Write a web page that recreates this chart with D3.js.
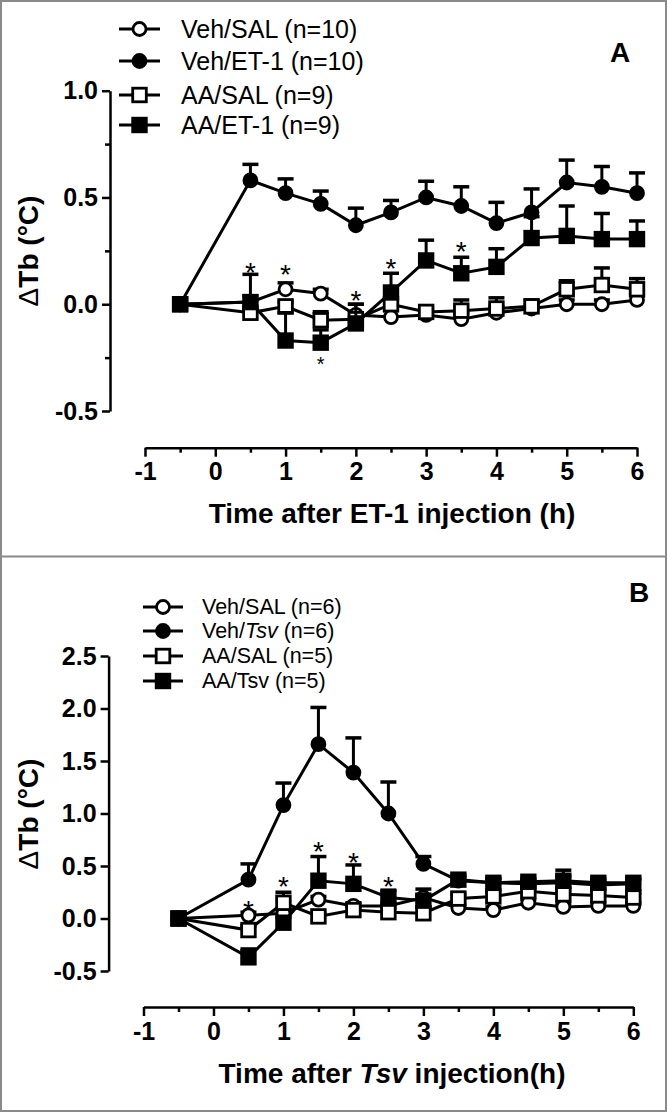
<!DOCTYPE html>
<html>
<head>
<meta charset="utf-8">
<script src="https://cdn.jsdelivr.net/npm/d3@7"></script>
<style>
  body { margin: 0; background: #fff; }
  svg { display: block; }
  .axis path, .axis line { stroke: #000; stroke-width: 2.5; }
  .axis text { font-family: "Liberation Sans", Arial, sans-serif; font-weight: bold; font-size: 25px; fill: #000; }
</style>
</head>
<body>
<div id="chart"></div>
<script>
// time points (h)
var times = [-0.5, 0.5, 1, 1.5, 2, 2.5, 3, 3.5, 4, 4.5, 5, 5.5, 6];
var xTicks = [-1, 0, 1, 2, 3, 4, 5, 6];
var xMinor = [-0.5, 0.5, 1.5, 2.5, 3.5, 4.5, 5.5];

// panel A - ET-1
var aVehSal     = [0, 0.01, 0.07, 0.05, -0.05, -0.06, -0.05, -0.07, -0.04, -0.02, 0.0, 0.0, 0.02];
var aVehSalErr  = [0, 0.03, 0.03, 0.02, 0.05, 0.03, 0.02, 0.03, 0.03, 0.02, 0.02, 0.02, 0.02];
var aVehEt      = [0, 0.58, 0.52, 0.47, 0.37, 0.43, 0.50, 0.46, 0.38, 0.43, 0.57, 0.55, 0.52];
var aVehEtErr   = [0, 0.075, 0.067, 0.06, 0.08, 0.056, 0.076, 0.09, 0.097, 0.11, 0.105, 0.095, 0.095];
var aAaSal      = [0, -0.04, -0.01, -0.075, -0.07, 0.0, -0.036, -0.03, -0.02, -0.01, 0.07, 0.09, 0.07];
var aAaSalErr   = [0, 0.02, 0.02, 0.04, 0.03, 0.03, 0.02, 0.05, 0.05, 0.03, 0.04, 0.08, 0.05];
var aAaEt       = [0, 0.01, -0.17, -0.18, -0.09, 0.055, 0.205, 0.145, 0.175, 0.31, 0.32, 0.305, 0.305];
var aAaEtErr    = [0, 0.13, 0.13, 0.06, 0.09, 0.09, 0.095, 0.075, 0.085, 0.1, 0.14, 0.12, 0.085];
var aStarT      = [0.5, 1, 2, 2.5, 3.5, 1.5];
var aStarV      = [0.18, 0.17, 0.05, 0.2, 0.28, -0.26];
var aYTicks     = [1.0, 0.5, 0.0, -0.5];
var aYMinor     = [0.75, 0.25, -0.25];
var aLegend     = ["Veh/SAL (n=10)", "Veh/ET-1 (n=10)", "AA/SAL (n=9)", "AA/ET-1 (n=9)"];

// panel B - Tsv
var bVehSal     = [0, 0.03, 0.05, 0.18, 0.12, 0.12, 0.2, 0.1, 0.08, 0.15, 0.11, 0.12, 0.12];
var bVehSalErr  = [0, 0.03, 0.03, 0.03, 0.03, 0.03, 0.08, 0.03, 0.03, 0.03, 0.03, 0.03, 0.03];
var bVehTsv     = [0, 0.37, 1.08, 1.66, 1.39, 1.0, 0.52, 0.36, 0.34, 0.33, 0.34, 0.32, 0.33];
var bVehTsvErr  = [0, 0.15, 0.21, 0.35, 0.33, 0.3, 0.07, 0.04, 0.04, 0.04, 0.06, 0.04, 0.04];
var bAaSal      = [0, -0.11, 0.15, 0.02, 0.08, 0.06, 0.05, 0.19, 0.21, 0.26, 0.23, 0.22, 0.2];
var bAaSalErr   = [0, 0.04, 0.1, 0.03, 0.03, 0.04, 0.06, 0.04, 0.04, 0.04, 0.04, 0.04, 0.04];
var bAaTsv      = [0, -0.37, -0.04, 0.36, 0.33, 0.2, 0.17, 0.37, 0.34, 0.35, 0.36, 0.34, 0.34];
var bAaTsvErr   = [0, 0.08, 0.05, 0.23, 0.18, 0.07, 0.05, 0.04, 0.04, 0.03, 0.1, 0.04, 0.04];
var bStarT      = [0.5, 1, 1.5, 2, 2.5];
var bStarV      = [0.145, 0.37, 0.70, 0.60, 0.37];
var bYTicks     = [2.5, 2.0, 1.5, 1.0, 0.5, 0.0, -0.5];
var bLegend     = [["Veh/SAL (n=6)"], ["Veh/", "Tsv", " (n=6)"], ["AA/SAL (n=5)"], ["AA/Tsv (n=5)"]];

var W = 667, H = 1113;
var FONT = "'Liberation Sans', Arial, sans-serif";

var svg = d3.select("#chart").append("svg")
    .attr("width", W)
    .attr("height", H);

// frame and separator
svg.append("rect")
    .attr("x", 1).attr("y", 1)
    .attr("width", W - 2).attr("height", H - 3)
    .attr("fill", "none").attr("stroke", "#8a8a8a").attr("stroke-width", 2);
svg.append("line")
    .attr("x1", 0).attr("x2", W)
    .attr("y1", 556.5).attr("y2", 556.5)
    .attr("stroke", "#8a8a8a").attr("stroke-width", 2);

var symbols = ["circleOpen", "circleFill", "squareOpen", "squareFill"];

function marker(g, kind, cx, cy) {
    var fill = (kind == "circleFill" || kind == "squareFill") ? "#000" : "#fff";
    if (kind.indexOf("circle") == 0) {
        g.append("circle")
            .attr("cx", cx).attr("cy", cy).attr("r", 6.5)
            .attr("fill", fill).attr("stroke", "#000").attr("stroke-width", 2.8);
    } else {
        g.append("rect")
            .attr("x", cx - 6.8).attr("y", cy - 6.8)
            .attr("width", 13.6).attr("height", 13.6)
            .attr("fill", fill).attr("stroke", "#000").attr("stroke-width", 2.8);
    }
}

function drawPanel(p) {
    var g = svg.append("g");
    var x = d3.scaleLinear().domain([-1, 6]).range(p.xRange);
    var y = d3.scaleLinear().domain(p.yDomain).range(p.yRange);

    // y axis
    g.append("g").attr("class", "axis")
        .attr("transform", "translate(" + p.yAxisX + ",0)")
        .call(d3.axisLeft(y).tickValues(p.yTicks).tickSize(8).tickSizeOuter(0)
            .tickPadding(4).tickFormat(function(d) { return d.toFixed(1); }));
    if (p.yMinor) {
        g.append("g").attr("class", "axis")
            .attr("transform", "translate(" + p.yAxisX + ",0)")
            .call(d3.axisLeft(y).tickValues(p.yMinor).tickSize(5).tickFormat(""))
            .select(".domain").remove();
    }

    // x axis
    g.append("g").attr("class", "axis")
        .attr("transform", "translate(0," + p.xAxisY + ")")
        .call(d3.axisBottom(x).tickValues(xTicks).tickSize(9).tickSizeOuter(0)
            .tickPadding(6).tickFormat(function(d) { return String(d); }));
    g.append("g").attr("class", "axis")
        .attr("transform", "translate(0," + p.xAxisY + ")")
        .call(d3.axisBottom(x).tickValues(xMinor).tickSize(5).tickFormat(""))
        .select(".domain").remove();

    // axis titles
    var xt = g.append("text")
        .attr("x", p.xTitleX).attr("y", p.xTitleY)
        .attr("text-anchor", "middle")
        .style("font-family", FONT).style("font-weight", "bold").style("font-size", "28px");
    p.xTitle.forEach(function(s, i) {
        xt.append("tspan").text(s).style("font-style", (i == 1 && p.xTitle.length > 1) ? "italic" : "normal");
    });

    var yt = g.append("text")
        .attr("transform", "translate(28," + p.yTitleY + ") rotate(-90)")
        .attr("text-anchor", "middle")
        .attr("dominant-baseline", "central")
        .style("font-family", FONT).style("font-size", "28px");
    yt.append("tspan").text("\u0394");
    yt.append("tspan").style("font-weight", "bold").text("Tb (\u00b0C)");

    // series
    p.series.forEach(function(s, k) {
        var pts = times.map(function(t, i) { return {t: t, v: s.vals[i], e: s.err[i]}; });
        var sg = g.append("g");
        sg.append("path")
            .datum(pts)
            .attr("fill", "none").attr("stroke", "#000").attr("stroke-width", 3)
            .attr("d", d3.line().x(function(d) { return x(d.t); }).y(function(d) { return y(d.v); }));
        pts.forEach(function(d) {
            if (d.e > 0) {
                sg.append("line")
                    .attr("x1", x(d.t)).attr("x2", x(d.t))
                    .attr("y1", y(d.v)).attr("y2", y(d.v + d.e))
                    .attr("stroke", "#000").attr("stroke-width", 3);
                sg.append("line")
                    .attr("x1", x(d.t) - 8).attr("x2", x(d.t) + 8)
                    .attr("y1", y(d.v + d.e)).attr("y2", y(d.v + d.e))
                    .attr("stroke", "#000").attr("stroke-width", 3.5);
            }
        });
        pts.forEach(function(d) { marker(sg, symbols[k], x(d.t), y(d.v)); });
    });

    // significance stars
    p.starT.forEach(function(t, i) {
        var small = p.starV[i] < 0;
        var fs = small ? 20 : 28;
        g.append("text")
            .attr("x", x(t)).attr("y", y(p.starV[i]) + fs * 0.58)
            .attr("text-anchor", "middle")
            .style("font-family", FONT).style("font-size", fs + "px")
            .text("*");
    });

    // legend
    p.legend.forEach(function(lbl, k) {
        var ly = p.legY[k];
        g.append("line")
            .attr("x1", p.legX[0]).attr("x2", p.legX[1])
            .attr("y1", ly).attr("y2", ly)
            .attr("stroke", "#000").attr("stroke-width", 3);
        marker(g, symbols[k], (p.legX[0] + p.legX[1]) / 2, ly);
        var lt = g.append("text")
            .attr("x", p.legTextX).attr("y", ly)
            .attr("dominant-baseline", "central")
            .style("font-family", FONT).style("font-size", p.legFont + "px");
        var parts = Array.isArray(lbl) ? lbl : [lbl];
        parts.forEach(function(s, i) {
            lt.append("tspan").text(s).style("font-style", (parts.length > 1 && i == 1) ? "italic" : "normal");
        });
    });

    // panel letter
    g.append("text")
        .attr("x", p.letterX).attr("y", p.letterY)
        .attr("text-anchor", "middle").attr("dominant-baseline", "central")
        .style("font-family", FONT).style("font-weight", "bold").style("font-size", "28px")
        .text(p.letter);
}

drawPanel({
    xRange: [145, 637], yDomain: [-0.5, 1.0], yRange: [411, 90.7],
    yAxisX: 110, xAxisY: 447.7, yTicks: aYTicks, yMinor: aYMinor,
    xTitle: ["Time after ET-1 injection (h)"], xTitleX: 392, xTitleY: 523,
    yTitleY: 251,
    series: [
        {vals: aVehSal, err: aVehSalErr},
        {vals: aVehEt, err: aVehEtErr},
        {vals: aAaSal, err: aAaSalErr},
        {vals: aAaEt, err: aAaEtErr}
    ],
    starT: aStarT, starV: aStarV,
    legend: aLegend, legY: [29, 61, 95, 125], legX: [119, 160], legTextX: 181, legFont: 25,
    letter: "A", letterX: 620, letterY: 52
});

drawPanel({
    xRange: [143.5, 633.3], yDomain: [-0.5, 2.5], yRange: [971, 656],
    yAxisX: 108.6, xAxisY: 1007, yTicks: bYTicks, yMinor: null,
    xTitle: ["Time after ", "Tsv", " injection(h)"], xTitleX: 392, xTitleY: 1083,
    yTitleY: 814,
    series: [
        {vals: bVehSal, err: bVehSalErr},
        {vals: bVehTsv, err: bVehTsvErr},
        {vals: bAaSal, err: bAaSalErr},
        {vals: bAaTsv, err: bAaTsvErr}
    ],
    starT: bStarT, starV: bStarV,
    legend: bLegend, legY: [607, 631, 656, 681], legX: [143, 183], legTextX: 202, legFont: 21.5,
    letter: "B", letterX: 639, letterY: 592
});
</script>
</body>
</html>
